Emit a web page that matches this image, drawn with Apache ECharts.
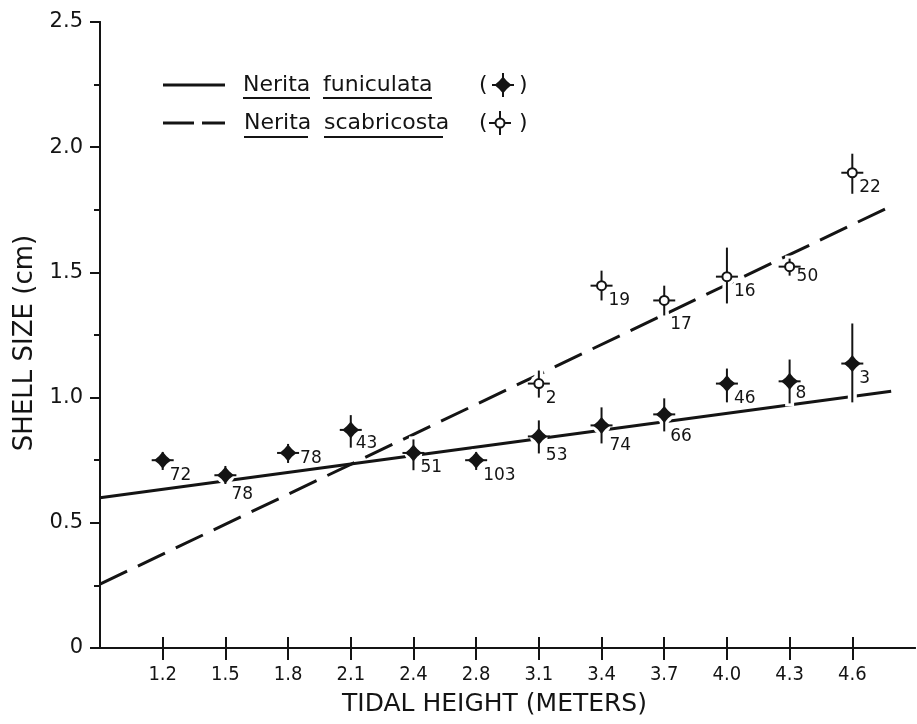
<!DOCTYPE html>
<html>
<head>
<meta charset="utf-8">
<script src="https://cdn.jsdelivr.net/npm/echarts@6/dist/echarts.min.js"></script>
<style>
  html, body { margin: 0; padding: 0; background: #fff; }
  #chart { width: 917px; height: 724px; }
</style>
</head>
<body>
<div id="chart"></div>
<script>
// tidal height classes (equally spaced on the axis, positions 1..12)
const tickLabels = ['1.2', '1.5', '1.8', '2.1', '2.4', '2.8', '3.1', '3.4', '3.7', '4.0', '4.3', '4.6'];

// Nerita funiculata (filled symbols)
const funiMean = [0.75, 0.69, 0.779, 0.871, 0.779, 0.75, 0.845, 0.889, 0.933, 1.056, 1.065, 1.136];
const funiHigh = [0.783, 0.727, 0.815, 0.93, 0.833, 0.783, 0.909, 0.961, 0.997, 1.116, 1.152, 1.296];
const funiLow = [0.711, 0.655, 0.739, 0.80, 0.71, 0.711, 0.777, 0.817, 0.865, 0.981, 0.977, 0.981];
const funiN = [72, 78, 78, 43, 51, 103, 53, 74, 66, 46, 8, 3];

// Nerita scabricosta (open symbols)
const scabHeights = ['3.1', '3.4', '3.7', '4.0', '4.3', '4.6'];
const scabMean = [1.056, 1.447, 1.388, 1.483, 1.523, 1.898];
const scabHigh = [1.108, 1.507, 1.447, 1.599, 1.555, 1.974];
const scabLow = [1.0, 1.388, 1.328, 1.376, 1.487, 1.814];
const scabN = [2, 19, 17, 16, 50, 22];

// fitted lines, [axis position, shell size] at both ends
const funiFit = [[0, 0.60], [12.62, 1.025]];
const scabFit = [[0, 0.255], [12.53, 1.754]];

const ink = '#141414';
const tickPos = tickLabels.map((t, i) => i + 1);

// small label nudges (dx, dy) where the sample size sits off the usual spot
const nudgeFuni = { 1: [6, 19], 2: [12, 6], 3: [5, 14], 6: [7, 19], 7: [8, 20], 8: [6, 22], 10: [6, 12] };
const nudgeScab = { 2: [6, 24], 4: [7, 10] };

function pos(h) {
    return tickLabels.indexOf(h) + 1;
}

const funiData = funiMean.map((m, i) => [i + 1, m, funiLow[i], funiHigh[i], funiN[i]]);
const scabData = scabMean.map((m, i) => [pos(scabHeights[i]), m, scabLow[i], scabHigh[i], scabN[i]]);

function starPoints(cx, cy, R, r) {
    let pts = [];
    for (let k = 0; k < 8; k++) {
        let a = k * Math.PI / 4 - Math.PI / 2;
        let rad = k % 2 === 0 ? R : r;
        pts.push([cx + rad * Math.cos(a), cy + rad * Math.sin(a)]);
    }
    return pts;
}

function makeRender(open, nudge) {
    return function (params, api) {
        let x = api.value(0);
        let c = api.coord([x, api.value(1)]);
        let lo = api.coord([x, api.value(2)]);
        let hi = api.coord([x, api.value(3)]);
        let n = api.value(4);
        let d = nudge[params.dataIndex] || [7, 15];
        let children = [
            // white halo so the fitted lines break around the symbol
            { type: 'line', shape: { x1: c[0], y1: hi[1] - 3, x2: c[0], y2: lo[1] + 3 }, style: { stroke: '#fff', lineWidth: 9 } },
            { type: 'circle', shape: { cx: c[0], cy: c[1], r: 9 }, style: { fill: '#fff' } },
            { type: 'line', shape: { x1: c[0], y1: hi[1], x2: c[0], y2: lo[1] }, style: { stroke: ink, lineWidth: 2 } },
            { type: 'line', shape: { x1: c[0] - 11, y1: c[1], x2: c[0] + 11, y2: c[1] }, style: { stroke: ink, lineWidth: 2 } }
        ];
        if (open) {
            children.push({ type: 'circle', shape: { cx: c[0], cy: c[1], r: 4.5 }, style: { fill: '#fff', stroke: ink, lineWidth: 2 } });
        } else {
            children.push({ type: 'polygon', shape: { points: starPoints(c[0], c[1], 8.5, 5.5) }, style: { fill: ink } });
        }
        children.push({
            type: 'text',
            x: c[0] + d[0],
            y: c[1] + d[1],
            style: {
                text: String(n),
                fill: ink,
                font: '17px "DejaVu Sans"',
                align: 'left',
                verticalAlign: 'middle'
            }
        });
        return { type: 'group', children: children };
    };
}

const legendFont = '22px "DejaVu Sans"';
function legendText(txt, x, y) {
    return { type: 'text', left: x, top: y - 11, style: { text: txt, font: legendFont, fill: ink } };
}
function hline(x1, x2, y, w) {
    return { type: 'line', shape: { x1: x1, y1: y, x2: x2, y2: y }, style: { stroke: ink, lineWidth: w } };
}

const chart = echarts.init(document.getElementById('chart'));
const option = {
    animation: false,
    backgroundColor: '#fff',
    grid: { left: 100, right: 2, top: 22, bottom: 76, show: false },
    xAxis: [{
        type: 'value',
        position: 'bottom',
        min: 0,
        max: 13,
        interval: 1,
        name: 'TIDAL HEIGHT (METERS)',
        nameLocation: 'middle',
        nameGap: 44,
        nameTextStyle: { color: ink, fontFamily: 'DejaVu Sans', fontSize: 25, padding: [0, 26, 0, 0] },
        axisLine: { show: true, lineStyle: { color: ink, width: 2 } },
        axisTick: { show: true, customValues: tickPos, length: 12, lineStyle: { color: ink, width: 2 } },
        axisLabel: {
            customValues: tickPos,
            formatter: v => tickLabels[Math.round(v) - 1] || '',
            color: ink,
            fontFamily: 'DejaVu Sans Condensed',
            fontSize: 20,
            margin: 17
        },
        splitLine: { show: false }
    }, {
        type: 'value',
        position: 'top',
        min: 0,
        max: 13,
        interval: 1,
        axisLine: { show: true, lineStyle: { color: ink, width: 2 } },
        axisTick: { show: true, customValues: tickPos, length: 11, lineStyle: { color: ink, width: 2 } },
        axisLabel: { show: false },
        splitLine: { show: false }
    }],
    yAxis: [{
        type: 'value',
        position: 'left',
        min: 0,
        max: 2.5,
        interval: 0.5,
        name: 'SHELL SIZE (cm)',
        nameLocation: 'middle',
        nameGap: 58,
        nameTextStyle: { color: ink, fontFamily: 'DejaVu Sans', fontSize: 26, padding: [0, 16, 0, 0] },
        axisLine: { show: true, lineStyle: { color: ink, width: 2 } },
        axisTick: { show: true, length: 10, lineStyle: { color: ink, width: 2 } },
        minorTick: { show: true, splitNumber: 2, length: 6, lineStyle: { color: ink, width: 2 } },
        axisLabel: {
            formatter: v => v === 0 ? '0' : v.toFixed(1),
            color: ink,
            fontFamily: 'DejaVu Sans',
            fontSize: 21,
            margin: 17
        },
        splitLine: { show: false }
    }, {
        type: 'value',
        position: 'right',
        min: 0,
        max: 2.5,
        axisLine: { show: true, lineStyle: { color: ink, width: 2 } },
        axisTick: { show: false },
        axisLabel: { show: false },
        splitLine: { show: false }
    }],
    series: [{
        name: 'Nerita funiculata fit',
        type: 'line',
        data: funiFit,
        symbol: 'none',
        lineStyle: { color: ink, width: 3 },
        z: 2
    }, {
        name: 'Nerita scabricosta fit',
        type: 'line',
        data: scabFit,
        symbol: 'none',
        lineStyle: { color: ink, width: 3, type: [30, 12] },
        z: 2
    }, {
        name: 'Nerita funiculata',
        type: 'custom',
        data: funiData,
        renderItem: makeRender(false, nudgeFuni),
        z: 5
    }, {
        name: 'Nerita scabricosta',
        type: 'custom',
        data: scabData,
        renderItem: makeRender(true, nudgeScab),
        z: 5
    }],
    graphic: [
        hline(163, 225, 85, 3),
        legendText('Nerita', 243, 85),
        legendText('funiculata', 323, 85),
        hline(243, 310, 98, 2),
        hline(323, 432, 98, 2),
        legendText('(', 479, 85),
        legendText(')', 519, 85),
        { type: 'line', shape: { x1: 503, y1: 73, x2: 503, y2: 97 }, style: { stroke: ink, lineWidth: 2 } },
        hline(492, 514, 85, 2),
        { type: 'polygon', shape: { points: starPoints(503, 85, 8.5, 5.5) }, style: { fill: ink } },

        hline(163, 194, 123, 3),
        hline(202, 225, 123, 3),
        legendText('Nerita', 244, 123),
        legendText('scabricosta', 324, 123),
        hline(244, 308, 137, 2),
        hline(324, 443, 137, 2),
        legendText('(', 479, 123),
        legendText(')', 519, 123),
        { type: 'line', shape: { x1: 500, y1: 111, x2: 500, y2: 135 }, style: { stroke: ink, lineWidth: 2 } },
        hline(489, 511, 123, 2),
        { type: 'circle', shape: { cx: 500, cy: 123, r: 4.5 }, style: { fill: '#fff', stroke: ink, lineWidth: 2 } }
    ]
};
chart.setOption(option);
</script>
</body>
</html>
